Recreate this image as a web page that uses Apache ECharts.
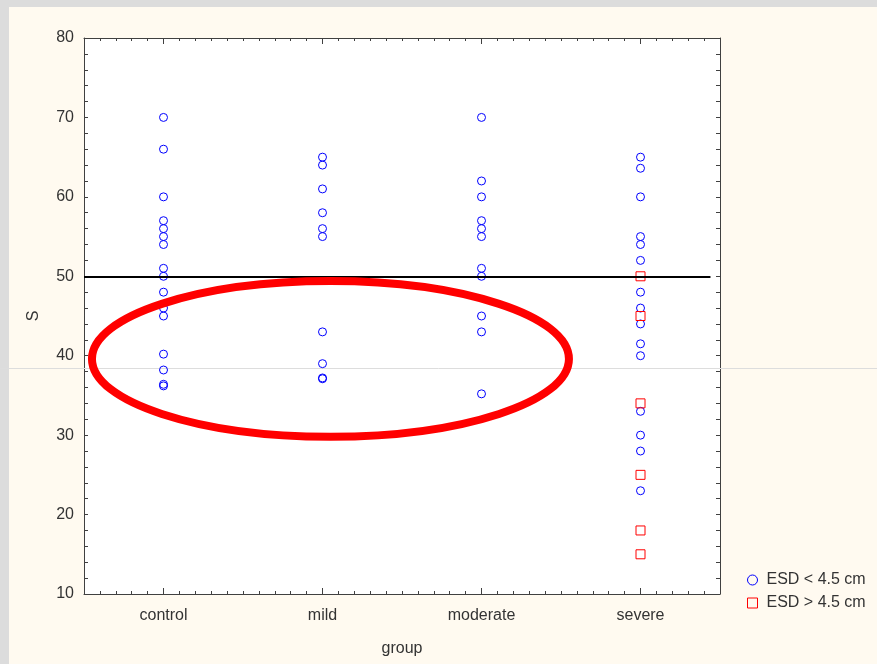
<!DOCTYPE html>
<html>
<head>
<meta charset="utf-8">
<script src="https://cdn.jsdelivr.net/npm/echarts@6/dist/echarts.min.js"></script>
<style>
  html, body { margin: 0; padding: 0; background: #fffaf0; }
  #chart { width: 877px; height: 664px; }
</style>
</head>
<body>
<div id="chart"></div>
<script>
// Groups along the x axis
const categories = ['control', 'mild', 'moderate', 'severe'];

// S values, ESD < 4.5 cm (blue circles)
const controlSmall  = [70, 66, 60, 57, 56, 55, 54, 51, 50, 48, 46, 45, 40.2, 38.2, 36.2, 36.4];
const mildSmall     = [65, 64, 61, 58, 56, 55, 43, 39, 37.1, 37.2];
const moderateSmall = [70, 62, 60, 57, 56, 55, 51, 50, 45, 43, 35.2];
const severeSmall   = [65, 63.6, 60, 55, 54, 52, 48, 46, 44, 41.5, 40, 33, 30, 28, 23];

// S values, ESD > 4.5 cm (red squares)
const severeLarge   = [50, 45, 34, 25, 18, 15];

// Reference level and y-axis ticks
const referenceLevel = 50;
const yTicks = [10, 20, 30, 40, 50, 60, 70, 80];

const smallByGroup = [controlSmall, mildSmall, moderateSmall, severeSmall];
const largeByGroup = [[], [], [], severeLarge];

function toPoints(groups) {
  const pts = [];
  groups.forEach((vals, i) => vals.forEach(v => pts.push([i + 1, v])));
  return pts;
}

const frameColor = '#404040';
const textColor = '#333333';
const font = 'Arial, "Liberation Sans", sans-serif';
const groupPositions = categories.map((c, i) => i + 1);

function majorX(position, withLabels) {
  return {
    type: 'value', position: position, min: 0.5, max: 4.5,
    axisLine: { show: true, onZero: false, lineStyle: { color: frameColor, width: 1 } },
    axisTick: { show: true, inside: true, length: 6, customValues: groupPositions,
                lineStyle: { color: frameColor } },
    axisLabel: withLabels ? {
      show: true, customValues: groupPositions, margin: 14,
      color: textColor, fontSize: 16, fontFamily: font,
      formatter: v => Math.abs(v - Math.round(v)) < 1e-6 ? (categories[Math.round(v) - 1] || '') : ''
    } : { show: false },
    splitLine: { show: false },
    name: withLabels ? 'group' : '',
    nameLocation: 'middle', nameGap: 47,
    nameTextStyle: { color: textColor, fontSize: 16, fontFamily: font }
  };
}
function minorX(position) {
  return {
    type: 'value', position: position, min: 0.5, max: 4.5, interval: 0.1,
    axisLine: { show: false, onZero: false },
    axisTick: { show: true, inside: true, length: 3, lineStyle: { color: frameColor } },
    axisLabel: { show: false },
    splitLine: { show: false }
  };
}
function yAxisDef(position, withLabels) {
  return {
    type: 'value', position: position, min: yTicks[0], max: yTicks[yTicks.length - 1], interval: 10,
    axisLine: { show: true, onZero: false, lineStyle: { color: frameColor, width: 1 } },
    axisTick: { show: true, inside: true, length: 4, lineStyle: { color: frameColor } },
    minorTick: { show: true, splitNumber: 5, length: 4, lineStyle: { color: frameColor } },
    axisLabel: withLabels ? { show: true, margin: 10, color: textColor, fontSize: 16, fontFamily: font }
                          : { show: false },
    splitLine: { show: false },
    minorSplitLine: { show: false },
    name: withLabels ? 'S' : '',
    nameLocation: 'middle', nameGap: 42,
    nameTextStyle: { color: textColor, fontSize: 16, fontFamily: font }
  };
}

const chart = echarts.init(document.getElementById('chart'));
chart.setOption({
  backgroundColor: '#fffaf0',
  animation: false,
  grid: { left: 84, top: 38, right: 157, bottom: 70, show: true, backgroundColor: '#ffffff', borderWidth: 0 },
  xAxis: [majorX('bottom', true), minorX('bottom'), majorX('top', false), minorX('top')],
  yAxis: [yAxisDef('left', true), yAxisDef('right', false)],
  legend: {
    orient: 'vertical', left: 742, top: 567,
    itemWidth: 10, itemHeight: 10, itemGap: 7,
    itemStyle: { borderWidth: 1 },
    textStyle: { color: textColor, fontSize: 16, fontFamily: font, padding: [0, 0, 0, 4] },
    data: ['ESD < 4.5 cm', 'ESD > 4.5 cm']
  },
  series: [
    {
      name: 'ESD < 4.5 cm', type: 'scatter', xAxisIndex: 0, yAxisIndex: 0,
      symbol: 'circle', symbolSize: 8,
      itemStyle: { color: 'rgba(0,0,0,0)', borderColor: '#0000ff', borderWidth: 1, opacity: 1 },
      emphasis: { disabled: true },
      data: toPoints(smallByGroup),
      z: 3,
      markLine: {
        silent: true, symbol: 'none', label: { show: false },
        lineStyle: { color: '#000000', width: 2, type: 'solid' },
        data: [[{ coord: [0.5, referenceLevel] }, { coord: [4.44, referenceLevel] }]]
      }
    },
    {
      name: 'ESD > 4.5 cm', type: 'scatter', xAxisIndex: 0, yAxisIndex: 0,
      symbol: 'rect', symbolSize: 9,
      itemStyle: { color: 'rgba(0,0,0,0)', borderColor: '#ff0000', borderWidth: 1, opacity: 1 },
      emphasis: { disabled: true },
      data: toPoints(largeByGroup),
      z: 3
    }
  ]
});

// Annotations: window frame, faint guide line, and the highlight ellipse
const c = chart.convertToPixel({ xAxisIndex: 0, yAxisIndex: 0 }, [2.05, 39.6]);
const e = chart.convertToPixel({ xAxisIndex: 0, yAxisIndex: 0 }, [3.55, 29.8]);
chart.setOption({
  graphic: [
    { type: 'rect', left: 0, top: 0, shape: { width: 877, height: 7 }, style: { fill: '#dcdcdc' }, silent: true },
    { type: 'rect', left: 0, top: 0, shape: { width: 9, height: 664 }, style: { fill: '#dcdcdc' }, silent: true },
    { type: 'line', shape: { x1: 0, y1: 368.5, x2: 877, y2: 368.5 },
      style: { stroke: '#dddddd', lineWidth: 1 }, z: 1, silent: true },
    { type: 'ellipse', shape: { cx: c[0], cy: c[1], rx: e[0] - c[0], ry: e[1] - c[1] },
      style: { fill: 'none', stroke: '#ff0000', lineWidth: 8 }, z: 10, silent: true }
  ]
});
</script>
</body>
</html>
